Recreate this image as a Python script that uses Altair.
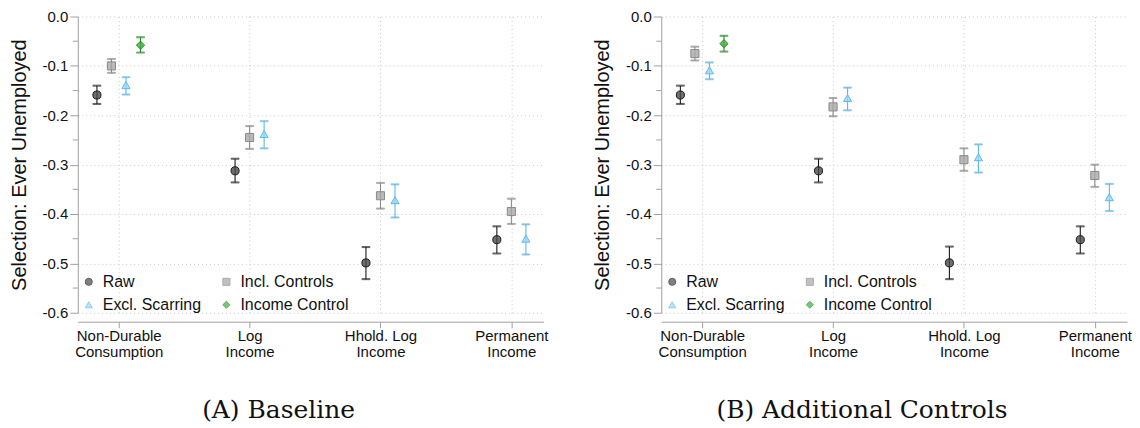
import altair as alt
import pandas as pd

# ---------------- data ----------------
categories = ["Non-Durable Consumption", "Log Income", "Hhold. Log Income", "Permanent Income"]
cat_lines = [["Non-Durable", "Consumption"], ["Log", "Income"], ["Hhold. Log", "Income"], ["Permanent", "Income"]]
series = ["Raw", "Incl. Controls", "Excl. Scarring", "Income Control"]

# Panel A: Baseline
a_raw = [-0.159, -0.3125, -0.499, -0.452]
a_raw_lo = [-0.177, -0.336, -0.532, -0.480]
a_raw_hi = [-0.140, -0.288, -0.467, -0.425]
a_incl = [-0.100, -0.245, -0.363, -0.395]
a_incl_lo = [-0.114, -0.268, -0.389, -0.420]
a_incl_hi = [-0.086, -0.222, -0.337, -0.369]
a_excl = [-0.139, -0.238, -0.372, -0.450]
a_excl_lo = [-0.158, -0.267, -0.407, -0.482]
a_excl_hi = [-0.123, -0.212, -0.340, -0.421]
a_inc = [-0.058, None, None, None]
a_inc_lo = [-0.073, None, None, None]
a_inc_hi = [-0.042, None, None, None]

# Panel B: Additional Controls
b_raw = [-0.159, -0.3125, -0.499, -0.452]
b_raw_lo = [-0.177, -0.336, -0.532, -0.480]
b_raw_hi = [-0.140, -0.288, -0.466, -0.425]
b_incl = [-0.075, -0.183, -0.290, -0.322]
b_incl_lo = [-0.089, -0.202, -0.3125, -0.345]
b_incl_hi = [-0.061, -0.165, -0.267, -0.300]
b_excl = [-0.109, -0.165, -0.285, -0.366]
b_excl_lo = [-0.127, -0.190, -0.316, -0.394]
b_excl_hi = [-0.093, -0.144, -0.259, -0.339]
b_inc = [-0.055, None, None, None]
b_inc_lo = [-0.071, None, None, None]
b_inc_hi = [-0.039, None, None, None]

y_ticks = [0.0, -0.1, -0.2, -0.3, -0.4, -0.5, -0.6]
y_minor = [-0.05, -0.15, -0.25, -0.35, -0.45, -0.55]

# ---------------- styling ----------------
fill_colors = ["#4a4a4a", "#a8a8a8", "#9dd6f7", "#3fae3f"]
stroke_colors = ["#1a1a1a", "#8a8a8a", "#5cb8ec", "#1f8a1f"]
shapes = ["circle", "square", "triangle-up", "diamond"]
FONT = "Liberation Sans"
STEP = 0.111  # within-group spacing in category units


def build_df(vals):
    rows = []
    for ci, cat in enumerate(categories):
        present = [(si, s) for si, s in enumerate(series) if vals[si][0][ci] is not None]
        n = len(present)
        for k, (si, s) in enumerate(present):
            est, lo, hi = vals[si][0][ci], vals[si][1][ci], vals[si][2][ci]
            rows.append({"cat": cat, "series": s, "order": si,
                         "xpos": ci + (k - (n - 1) / 2) * STEP,
                         "est": est, "lo": lo, "hi": hi})
    return pd.DataFrame(rows)


label_expr = " : ".join(
    f"datum.value == {i} ? {cat_lines[i]!r}" for i in range(len(categories))
) + " : ''"

y_label_expr = "datum.value == 0 ? '0.0' : '-' + format(-datum.value, '.1f')"


def panel(df, title):
    xs = alt.Scale(domain=[-0.3125, 3.246], nice=False, zero=False)
    ys = alt.Scale(domain=[-0.6, 0.0], nice=False, zero=False)
    x_enc = alt.X("xpos:Q", scale=xs, axis=alt.Axis(
        values=list(range(len(categories))), labelExpr=label_expr, title=None,
        grid=True, gridDash=[1, 3], gridColor="#c8c8c8", offset=9,
        tickSize=6, tickColor="#a0a0a0", domainColor="#a0a0a0",
        labelFont=FONT, labelFontSize=15, labelColor="#111", labelLineHeight=16,
        labelPadding=1))
    y_enc = alt.Y("est:Q", scale=ys, axis=alt.Axis(
        values=y_ticks, labelExpr=y_label_expr, title="Selection: Ever Unemployed",
        grid=True, gridDash=[1, 3], gridColor="#c8c8c8",
        tickSize=8, tickColor="#a0a0a0", domainColor="#a0a0a0",
        labelFont=FONT, labelFontSize=15, labelColor="#111", labelPadding=2,
        titleFont=FONT, titleFontSize=20, titleFontWeight="normal", titleColor="#111",
        titlePadding=13))

    legend = alt.Legend(title=None, orient="none", legendX=3, legendY=258, columns=2,
                        direction="horizontal", columnPadding=17, rowPadding=7,
                        labelFont=FONT, labelFontSize=16, labelColor="#111",
                        symbolSize=50, symbolStrokeWidth=1, labelOffset=6, padding=0)
    stroke_enc = alt.Stroke("series:N", scale=alt.Scale(domain=series, range=stroke_colors),
                            legend=legend)

    base = alt.Chart(df)
    bars = base.mark_rule(strokeWidth=1.1).encode(
        x=x_enc, y=alt.Y("lo:Q", scale=ys), y2="hi:Q", stroke=stroke_enc)
    cap_lo = base.mark_tick(orient="horizontal", size=8, thickness=1).encode(
        x="xpos:Q", y=alt.Y("lo:Q", scale=ys), stroke=stroke_enc)
    cap_hi = base.mark_tick(orient="horizontal", size=8, thickness=1).encode(
        x="xpos:Q", y=alt.Y("hi:Q", scale=ys), stroke=stroke_enc)
    pts = base.mark_point(filled=False, size=66, strokeWidth=1, fillOpacity=0.8, opacity=1).encode(
        x="xpos:Q", y=y_enc,
        shape=alt.Shape("series:N", scale=alt.Scale(domain=series, range=shapes), legend=legend),
        fill=alt.Fill("series:N", scale=alt.Scale(domain=series, range=fill_colors), legend=legend),
        stroke=stroke_enc,
    )
    minor = alt.Chart(pd.DataFrame({"m": y_minor})).mark_rule(color="#a0a0a0", strokeWidth=1).encode(
        y=alt.Y("m:Q", scale=ys), x=alt.value(-5), x2=alt.value(0))
    return alt.layer(minor, bars, cap_lo, cap_hi, pts).properties(
        width=467, height=297,
        title=alt.TitleParams(title, orient="bottom", anchor="middle", frame="bounds",
                              font="DejaVu Serif", fontSize=25, fontWeight="normal",
                              color="#111", offset=39))


df_a = build_df([(a_raw, a_raw_lo, a_raw_hi), (a_incl, a_incl_lo, a_incl_hi),
                 (a_excl, a_excl_lo, a_excl_hi), (a_inc, a_inc_lo, a_inc_hi)])
df_b = build_df([(b_raw, b_raw_lo, b_raw_hi), (b_incl, b_incl_lo, b_incl_hi),
                 (b_excl, b_excl_lo, b_excl_hi), (b_inc, b_inc_lo, b_inc_hi)])

chart = alt.hconcat(panel(df_a, "(A) Baseline"), panel(df_b, "(B) Additional Controls"),
                    spacing=44).resolve_scale(
    fill="independent", stroke="independent", shape="independent"
).properties(padding={"left": 1, "top": 1, "right": 0, "bottom": 0}).configure_view(stroke=None)

chart.save("out.html", embed_options={"renderer": "svg", "actions": False})
